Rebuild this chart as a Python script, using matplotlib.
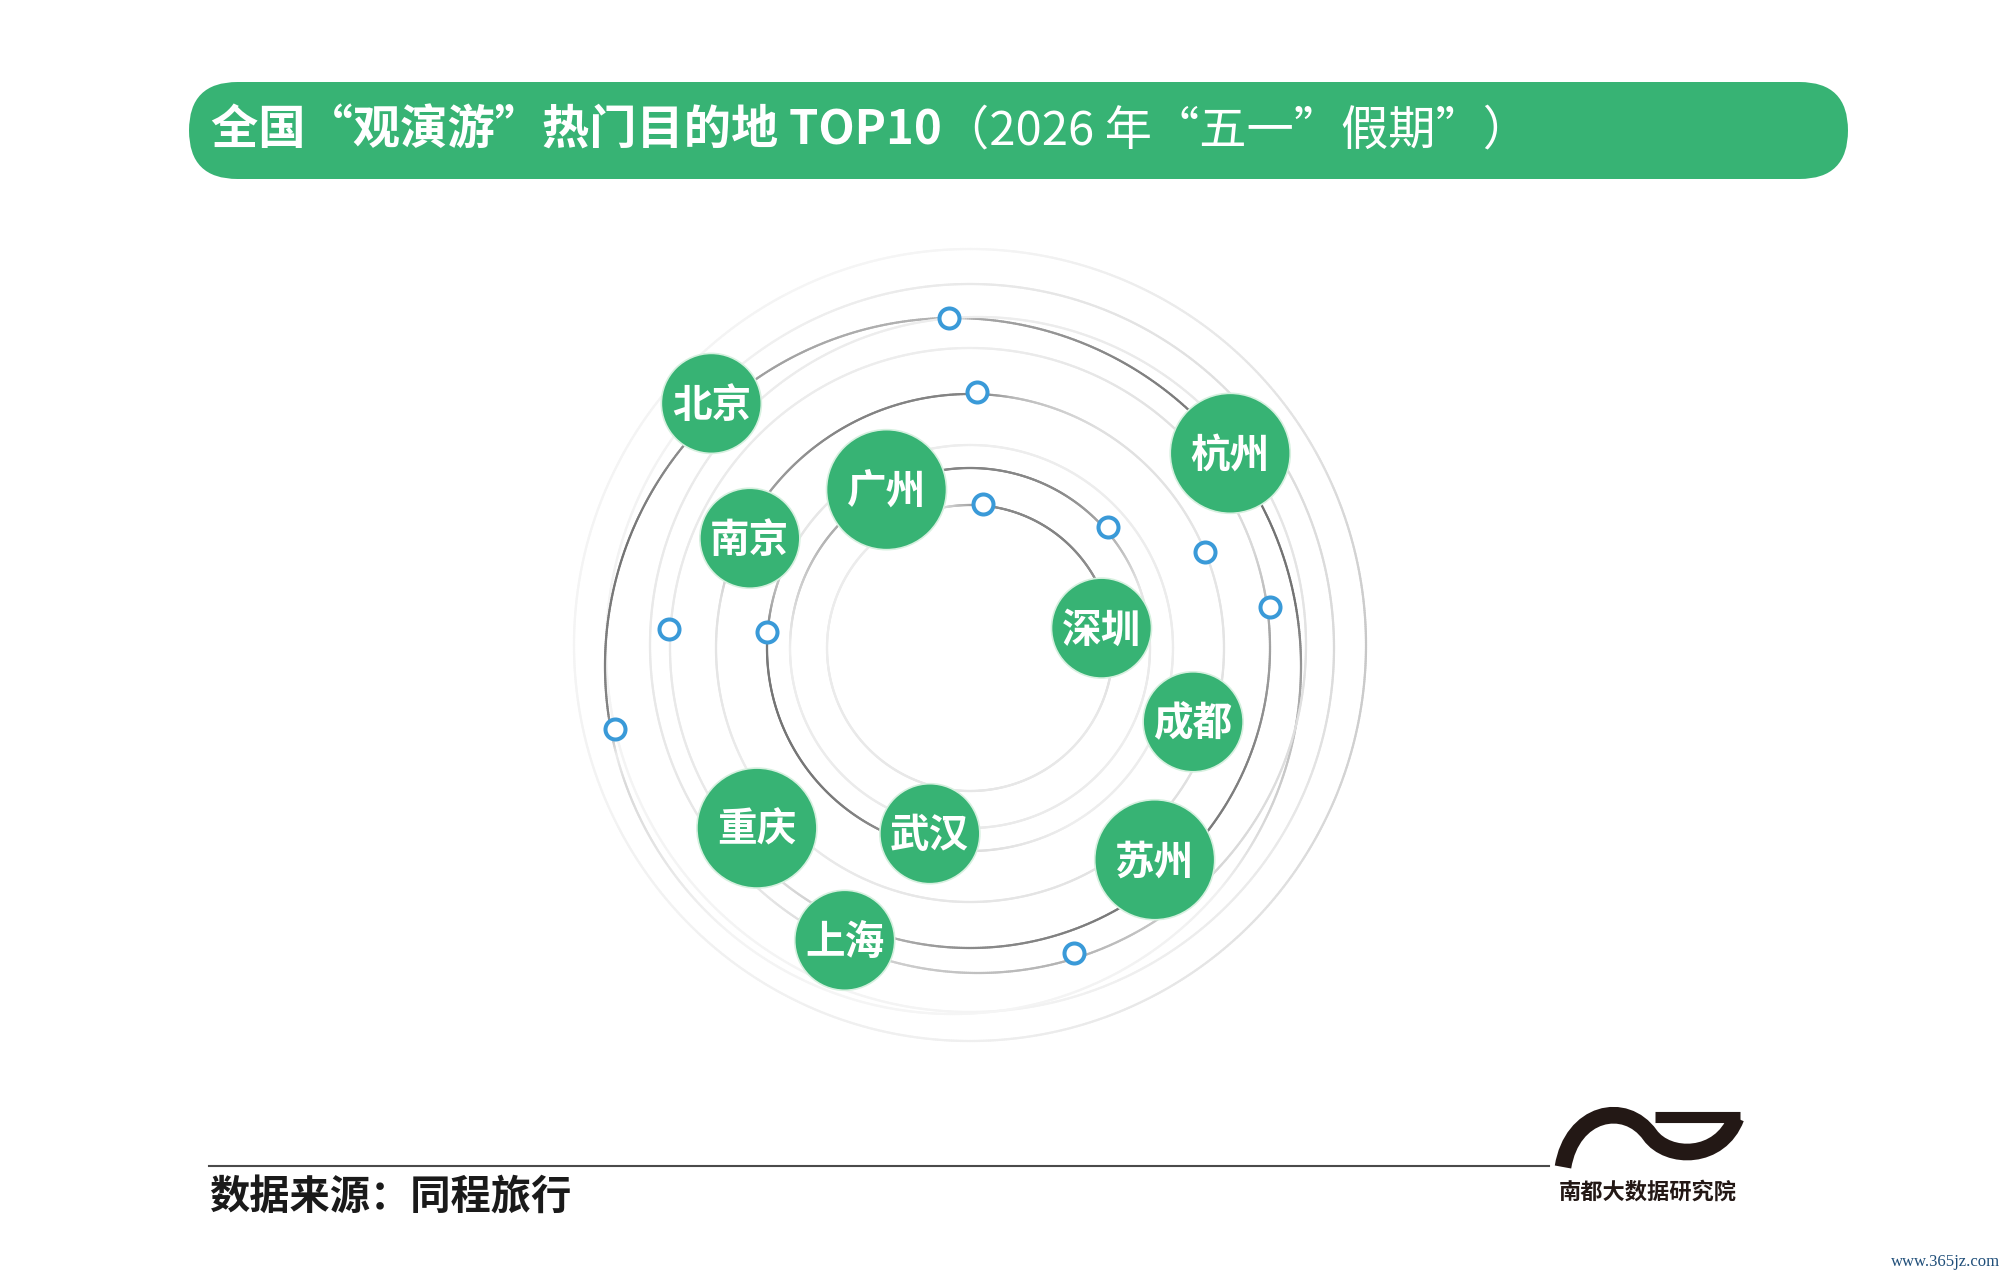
import numpy as np
import matplotlib
matplotlib.use('Agg')
import matplotlib.pyplot as plt
from matplotlib.collections import LineCollection
from matplotlib.patches import FancyBboxPatch, PathPatch
from matplotlib.path import Path

plt.rcParams['font.family'] = ['Noto Sans CJK SC', 'DejaVu Sans']

# ---------------- data ----------------
cities = ['北京', '上海', '广州', '深圳', '杭州', '成都', '重庆', '南京', '苏州', '武汉']
title_main = '全国“观演游”热门目的地 TOP10'
title_sub = '（2026 年“五一”假期”）'
source_text = '数据来源：同程旅行'
brand_text = '南都大数据研究院'
watermark_text = 'www.365jz.com'

# ---------------- layout (polar placement around the ring centre) ----------------
CENTER = (970, 648)
city_radius = [356, 318, 179, 133, 325, 235, 279, 246, 281, 190]
city_angle = [136.6, -113.2, 117.8, 8.6, 36.8, -18.3, -139.8, 153.5, -48.9, -102.2]
big_bubbles = {'广州', '杭州', '重庆', '苏州'}

dot_radius = [331, 256, 145, 183, 254, 303, 302, 204, 364, 322]
dot_angle = [93.6, 88.5, 84.7, 41.2, 22.3, 7.7, 176.3, 175.4, 192.9, -71.2]

# rings: (cx, cy, R, [(angle, darkness), ...])
rings = [
    (970, 645, 396, [(-180, .03), (-90, .06), (-40, .15), (0, .32), (30, .15), (90, .02), (135, .03)]),
    (970, 648, 364, [(90, .1), (45, .16), (0, .2), (-30, .1), (-90, .03), (180, .03), (135, .04)]),
    (953, 666, 348, [(200, .2), (188, .75), (160, .85), (137, .65), (110, .5), (95, .45), (60, .75),
                     (37, .85), (10, .85), (-10, .4), (-40, .05), (-90, .02), (-130, .03), (-165, .08)]),
    (978, 645, 328, [(-75, .45), (-100, .3), (-130, .12), (180, .1), (90, .07), (0, .14), (-40, .2)]),
    (970, 648, 300, [(20, .2), (5, .5), (-20, .75), (-50, .85), (-90, .7), (-115, .3), (-140, .1),
                     (180, .1), (90, .07)]),
    (970, 648, 254, [(88, .75), (120, .75), (152, .5), (170, .15), (-150, .08), (-90, .12), (-30, .16),
                     (22, .12), (60, .16), (80, .4)]),
    (970, 648, 203, [(176, .8), (200, .85), (230, .8), (255, .6), (270, .18), (300, .07), (0, .08),
                     (90, .07), (150, .12), (168, .5)]),
    (970, 648, 180, [(118, .7), (90, .75), (60, .7), (41, .5), (20, .12), (-30, .07), (-90, .1),
                     (180, .07)]),
    (970, 648, 143, [(100, .22), (85, .7), (50, .75), (15, .6), (0, .18), (-30, .1), (-90, .12),
                     (180, .08), (125, .08)]),
]

GREEN = '#37B374'
BLUE = '#3A9AD8'

fig = plt.figure(figsize=(20.07, 12.79), dpi=100)
ax = fig.add_axes([0, 0, 1, 1])
ax.set_xlim(0, 2007)
ax.set_ylim(1279, 0)
ax.axis('off')
fig.patch.set_facecolor('white')


def draw_ring(cx, cy, R, anchors, lw=1.6):
    th = np.linspace(0, 360, 1081)
    a_t = np.array([a[0] % 360 for a in anchors], dtype=float)
    a_v = np.array([a[1] for a in anchors], dtype=float)
    o = np.argsort(a_t)
    d = np.interp(th, a_t[o], a_v[o], period=360)
    x = cx + R * np.cos(np.radians(th))
    y = cy - R * np.sin(np.radians(th))
    pts = np.column_stack([x, y]).reshape(-1, 1, 2)
    segs = np.concatenate([pts[:-1], pts[1:]], axis=1)
    dm = 0.5 * (d[:-1] + d[1:])
    light = np.array([0.975, 0.975, 0.975])
    dark = np.array([0.36, 0.36, 0.36])
    cols = light[None, :] * (1 - dm[:, None]) + dark[None, :] * dm[:, None]
    lc = LineCollection(segs, colors=cols, linewidths=lw, capstyle='round', zorder=1)
    ax.add_collection(lc)


for cx, cy, R, anc in rings:
    draw_ring(cx, cy, R, anc)

# blue marker dots
dr = np.array(dot_radius, float)
da = np.radians(np.array(dot_angle, float))
dx = CENTER[0] + dr * np.cos(da)
dy = CENTER[1] - dr * np.sin(da)
ax.scatter(dx, dy, s=(20 * 0.72) ** 2, facecolor='white', edgecolor=BLUE,
           linewidths=2.9, zorder=3)

# city bubbles
cr = np.array(city_radius, float)
ca = np.radians(np.array(city_angle, float))
cxs = CENTER[0] + cr * np.cos(ca)
cys = CENTER[1] - cr * np.sin(ca)
sizes = [((120 if c in big_bubbles else 100) * 0.72) ** 2 for c in cities]
ax.scatter(cxs, cys, s=sizes, color=GREEN, edgecolor='#d6f0df', linewidths=1.2, zorder=4)
for c, x, y in zip(cities, cxs, cys):
    ax.text(x, y + 2, c, ha='center', va='center', color='white', fontsize=28.5,
            fontweight='bold', zorder=5)

# title bar
bar = FancyBboxPatch((189, 82), 1659, 97, boxstyle='round,pad=0,rounding_size=48.5',
                     facecolor=GREEN, edgecolor='none', zorder=2)
ax.add_patch(bar)
ax.text(211, 131, title_main, ha='left', va='center', color='white', fontsize=34,
        fontweight='bold', zorder=5)
ax.text(942, 131, title_sub, ha='left', va='center', color='white', fontsize=34,
        fontweight='light', zorder=5)

# footer
ax.plot([209, 1549], [1166, 1166], color='#4a4a4a', lw=1.5, zorder=2)
ax.text(209, 1197, source_text, ha='left', va='center', color='#1a1a1a', fontsize=29,
        fontweight='bold')

# logo
logo_path = Path([(1563, 1167), (1572, 1112), (1625, 1100), (1650, 1135),
                  (1668, 1160), (1720, 1160), (1736, 1118)],
                 [Path.MOVETO, Path.CURVE4, Path.CURVE4, Path.CURVE4,
                  Path.CURVE4, Path.CURVE4, Path.CURVE4])
ax.add_patch(PathPatch(logo_path, facecolor='none', edgecolor='#231815', lw=12,
                       capstyle='butt', zorder=3))
ax.plot([1655, 1740], [1117, 1117], color='#231815', lw=8, solid_capstyle='butt', zorder=3)
ax.text(1648, 1192, brand_text, ha='center', va='center', color='#231815', fontsize=16,
        fontweight='bold')

ax.text(2000, 1262, watermark_text, ha='right', va='center', color='#1f4e79', fontsize=12,
        family=['Liberation Serif', 'DejaVu Serif'])

fig.savefig('out.png', dpi=100, facecolor='white')
